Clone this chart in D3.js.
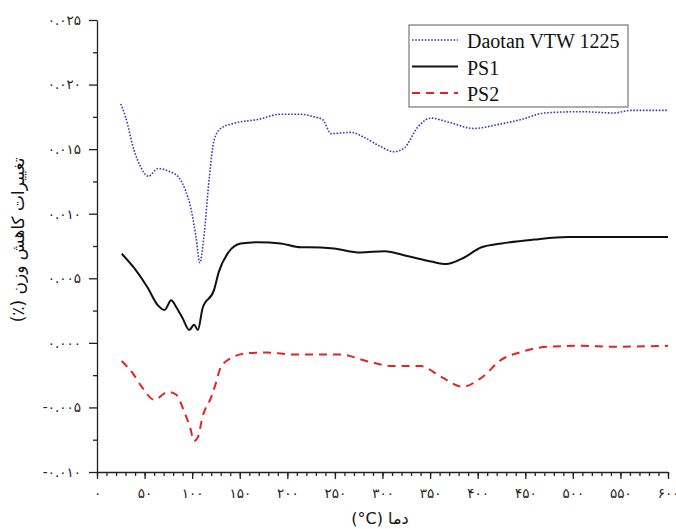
<!DOCTYPE html>
<html lang="fa">
<head>
<meta charset="utf-8">
<title></title>
<script src="https://d3js.org/d3.v7.min.js"></script>
<style>
body { margin: 0; background: #fff; }
.tick text { font-family: "DejaVu Sans", sans-serif; font-size: 13.5px; fill: #222; }
.domain, .tick line { stroke: #222; stroke-width: 1.3px; }
.series { fill: none; }
</style>
</head>
<body>
<svg width="676" height="529"></svg>
<script>

// temperatures (°C) and weight-loss values
var daotanT = [25, 30, 39, 46, 54, 64, 75, 86, 93, 99, 104, 108, 112, 118, 123, 130, 144, 169, 193, 214, 228, 237, 246, 267, 281, 298, 312, 323, 337, 351, 369, 396, 421, 446, 470, 509, 543, 561, 600];
var daotanW = [.0185, .0175, .0149, .0136, .0129, .0135, .0133, .0128, .0118, .0103, .0082, .0062, .0080, .0128, .0157, .0166, .0170, .0173, .0177, .0177, .0175, .0173, .0162, .0163, .0159, .0152, .0148, .0151, .0167, .0174, .0171, .0166, .0169, .0173, .0178, .0179, .0178, .0180, .0180];

var ps1T = [26, 39, 53, 64, 71, 78, 83, 90, 97, 102, 106, 111, 123, 128, 138, 151, 169, 193, 214, 222, 249, 277, 302, 327, 351, 367, 383, 404, 425, 459, 495, 543, 600];
var ps1W = [.0069, .0058, .0043, .0029, .00255, .0033, .0028, .0019, .0010, .0014, .0010, .0027, .0041, .0055, .0070, .0077, .0078, .0077, .0074, .0074, .0073, .0070, .0071, .0067, .0063, .0061, .0065, .0074, .0077, .0080, .0082, .0082, .0082];

var ps2T = [26, 38, 48, 60, 75, 83, 91, 98, 102, 106, 111, 120, 125, 130, 143, 158, 179, 207, 228, 256, 285, 312, 340, 361, 384, 404, 425, 446, 474, 509, 543, 600];
var ps2W = [-.0014, -.0024, -.0035, -.0044, -.0038, -.0040, -.0052, -.0066, -.0076, -.0073, -.0057, -.0042, -.0031, -.0019, -.0011, -.0008, -.00075, -.0009, -.0009, -.0009, -.00145, -.0018, -.0018, -.0026, -.0034, -.0027, -.0013, -.0007, -.0003, -.00023, -.0003, -.00023];

var seriesNames = ["Daotan VTW 1225", "PS1", "PS2"];
var xTicks = d3.range(0, 601, 50);
var yTicks = d3.range(-0.010, 0.0251, 0.005);

var svg = d3.select("svg");

var margin = {top: 20, right: 8, bottom: 57, left: 97};
var width = +svg.attr("width") - margin.left - margin.right;
var height = +svg.attr("height") - margin.top - margin.bottom;

var g = svg.append("g").attr("transform", `translate(${margin.left}, ${margin.top})`);

var xScale = d3.scaleLinear().domain([0, 600]).range([0, width]);
var yScale = d3.scaleLinear().domain([-0.010, 0.025]).range([height, 0]);

// latin digits -> persian digits
var fa = "۰۱۲۳۴۵۶۷۸۹";
function toFa(s) {
  return s.replace(/[0-9]/g, c => fa[+c]).replace("−", "-");
}

// minor ticks first
g.append("g")
    .attr("transform", `translate(0, ${height})`)
    .call(d3.axisBottom(xScale).tickValues(d3.range(0, 601, 10)).tickSize(4).tickFormat(""))
    .call(a => a.select(".domain").remove());

g.append("g")
    .call(d3.axisLeft(yScale).tickValues(d3.range(-0.0075, 0.025, 0.005)).tickSize(4).tickFormat(""))
    .call(a => a.select(".domain").remove());

g.append("g")
    .attr("transform", `translate(0, ${height})`)
    .call(d3.axisBottom(xScale).tickValues(xTicks).tickSize(7).tickSizeOuter(0)
      .tickFormat(d => toFa(String(d))))
    .call(a => a.selectAll(".tick text").attr("dy", "1.2em"));

g.append("g")
    .call(d3.axisLeft(yScale).tickValues(yTicks).tickSize(8).tickSizeOuter(0)
      .tickFormat(d => toFa(d3.format(".3f")(Math.abs(d) < 1e-9 ? 0 : d))))
    .call(a => a.selectAll(".tick text").attr("x", -16));

var line = d3.line()
    .x(d => xScale(d[0]))
    .y(d => yScale(d[1]))
    .curve(d3.curveMonotoneX);

var styles = [
  {color: "#3a3ab8", width: 1.6, dash: "1.6,1.6"},
  {color: "#111111", width: 2, dash: null},
  {color: "#e52222", width: 2, dash: "8,6"}
];
var data = [
  d3.zip(daotanT, daotanW),
  d3.zip(ps1T, ps1W),
  d3.zip(ps2T, ps2W)
];

data.forEach(function(d, i) {
  g.append("path")
      .datum(d)
      .attr("class", "series")
      .attr("stroke", styles[i].color)
      .attr("stroke-width", styles[i].width)
      .attr("stroke-dasharray", styles[i].dash)
      .attr("d", line);
});

// legend
var legend = svg.append("g").attr("transform", "translate(409, 25)");
legend.append("rect")
    .attr("width", 219).attr("height", 82)
    .attr("fill", "#fff").attr("stroke", "#777").attr("stroke-width", 1.2);

seriesNames.forEach(function(name, i) {
  var yy = 15 + i * 26.5;
  legend.append("line")
      .attr("x1", 3).attr("x2", 49).attr("y1", yy).attr("y2", yy)
      .attr("stroke", styles[i].color)
      .attr("stroke-width", styles[i].width)
      .attr("stroke-dasharray", styles[i].dash);
  legend.append("text")
      .attr("x", 58).attr("y", yy + 8)
      .attr("font-family", "Liberation Serif, serif")
      .attr("font-size", 20)
      .attr("fill", "#111")
      .text(name);
});

// axis titles
svg.append("text")
    .attr("x", 380).attr("y", 524)
    .attr("text-anchor", "middle")
    .attr("font-family", "DejaVu Sans, sans-serif")
    .attr("font-size", 16)
    .attr("fill", "#111")
    .text("(°C) دما");

svg.append("text")
    .attr("transform", "translate(24, 240) rotate(-90)")
    .attr("text-anchor", "middle")
    .attr("direction", "rtl")
    .attr("font-family", "DejaVu Sans, sans-serif")
    .attr("font-size", 17)
    .attr("fill", "#111")
    .text("تغییرات کاهش وزن (٪)");

</script>
</body>
</html>
